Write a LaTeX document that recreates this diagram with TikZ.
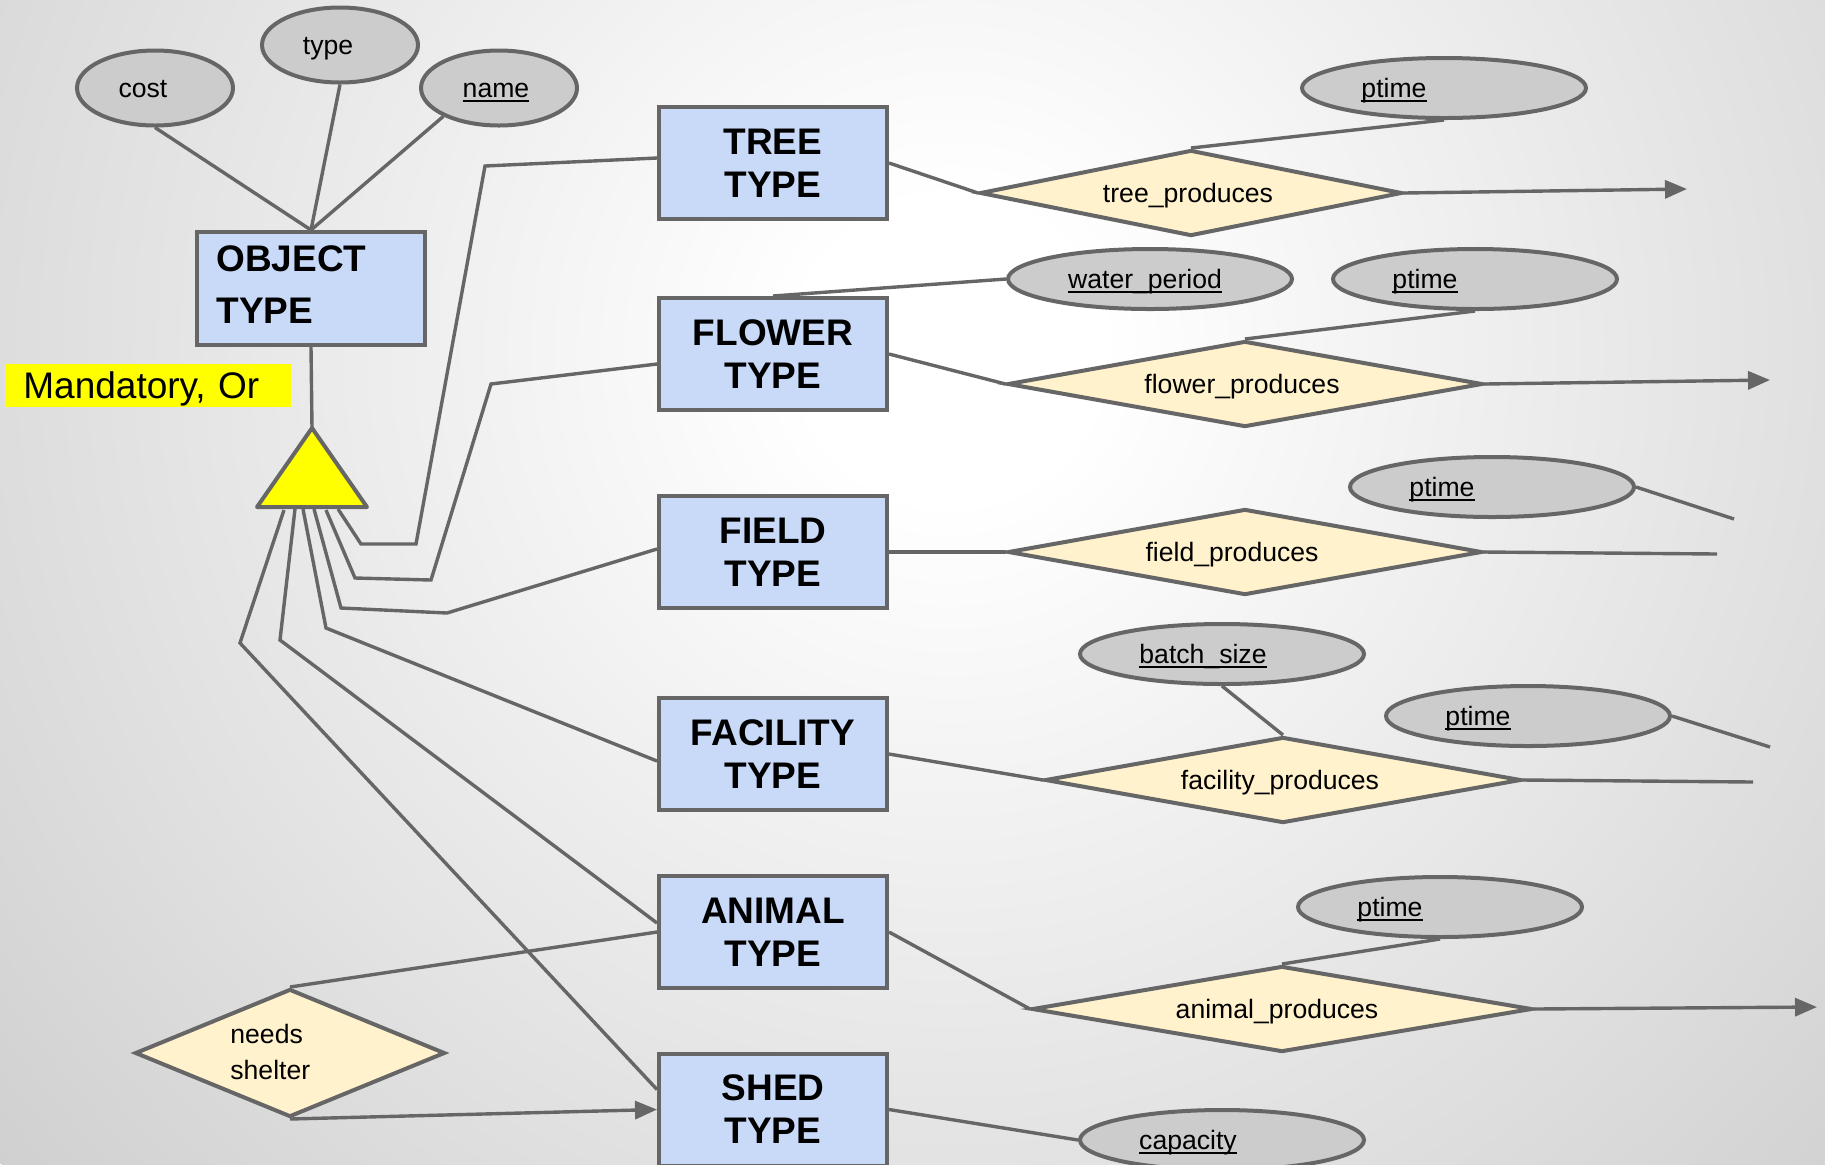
\documentclass[tikz,border=0pt]{standalone}
\usepackage{fontspec}
\setmainfont{Liberation Sans}
\usetikzlibrary{shapes.geometric, arrows.meta, calc}

\definecolor{edgegray}{HTML}{666666}
\definecolor{entblue}{HTML}{C9DAF8}
\definecolor{relyellow}{HTML}{FFF2CC}
\definecolor{attrgray}{HTML}{CCCCCC}
\definecolor{bgedge}{HTML}{D0D0D0}
\definecolor{isayellow}{HTML}{FFFF00}

% soft light spot behind the diagram (25bp = radius of the shaded circle)
\pgfdeclareradialshading{bgglow}{\pgfpoint{0bp}{0bp}}{color(0bp)=(white); color(3bp)=(white); color(25bp)=(bgedge); color(50bp)=(bgedge)}

% key attribute: underline drawn through the descenders
\newcommand{\keyattr}[1]{\setbox0=\hbox{#1}\rlap{\rule[-0.17em]{\wd0}{0.07em}}\box0}

\tikzset{
  ln/.style={draw=edgegray, line width=1.7pt},
  arr/.style={ln, -{Triangle[length=11pt, width=9pt]}},
  entity/.style={rectangle, draw=edgegray, line width=2pt, fill=entblue,
    minimum width=114pt, minimum height=56pt, inner sep=0pt, align=center,
    font=\fontsize{18.5}{21.5}\selectfont\bfseries},
  rel/.style={diamond, draw=edgegray, line width=2pt, fill=relyellow,
    inner sep=0pt, minimum height=43pt},
  attr/.style={ellipse, draw=edgegray, line width=2pt, fill=attrgray,
    inner sep=0pt, minimum width=142pt, minimum height=30pt},
  lbl/.style={inner sep=0pt, anchor=base, font=\fontsize{13.3}{16}\selectfont},
}

\begin{document}
\begin{tikzpicture}[x=0.5pt, y=-0.5pt]
% background glow
\fill[bgedge] (0,0) rectangle (1825,1164);
\begin{scope}
  \clip (0,0) rectangle (1825,1164);
  \shade[shading=bgglow] (950,350) circle[radius=1250];
\end{scope}
\useasboundingbox (0,0) rectangle (1825,1164);

% supertype and its attributes
\node[entity, minimum height=56.5pt] (obj) at (311,288.5) {};
\node[inner sep=0pt, anchor=west, align=left,
      font=\fontsize{18.5}{26}\selectfont\bfseries] (obj-t) at (216,284.5) {OBJECT\\TYPE};
\node[attr, minimum width=78pt, minimum height=37.5pt] (cost) at (155,88) {};
\node[attr, minimum width=78pt, minimum height=37.5pt] (typ) at (340,45) {};
\node[attr, minimum width=78pt, minimum height=37.5pt] (nam) at (499,88) {};
\node[lbl] (cost-t) at (143,97) {cost};
\node[lbl] (typ-t) at (328,54) {type};
\node[lbl] (nam-t) at (496,97) {\keyattr{name}};
\draw[ln] (cost.south) -- (obj.north);
\draw[ln] (typ.south) -- (obj.north);
\draw[ln] (nam.207) -- (obj.north);

\node[anchor=west, fill=isayellow, inner xsep=9pt, inner ysep=0pt, text width=125pt,
      text height=13.3pt, text depth=0pt,
      minimum height=21.5pt, align=left, font=\fontsize{18.5}{21}\selectfont]
      (mand) at (5,385.5) {Mandatory, Or};

% specialisation triangle
\coordinate (isa-top) at (312,428);
\coordinate (isa-l) at (257,507);
\coordinate (isa-r) at (367,507);
\draw[ln] (obj.south) -- (isa-top);
\draw[draw=edgegray, line width=2pt, fill=isayellow, line join=round]
  (isa-top) -- (isa-l) -- (isa-r) -- cycle;

% subtypes
\node[entity] (tree) at (773,163) {TREE\\TYPE};
\node[entity] (flower) at (773,354) {FLOWER\\TYPE};
\node[entity] (field) at (773,552) {FIELD\\TYPE};
\node[entity] (facility) at (773,754) {FACILITY\\TYPE};
\node[entity] (animal) at (773,932) {ANIMAL\\TYPE};
\node[entity] (shed) at (773,1109.5) {SHED\\TYPE};

% subtype links
\coordinate (s1) at (338,509);
\coordinate (s2) at (326,510);
\coordinate (s3) at (314,509);
\coordinate (s4) at (303,509);
\coordinate (s5) at (295,509);
\coordinate (s6) at (284,510);
\draw[ln, line join=miter] (s1) -- (361,544) -- (416,544) -- (485,166) -- ($(tree.west)+(0,-5)$);
\draw[ln, line join=miter] (s2) -- (355,578) -- (431,580) -- (491,384) -- ($(flower.west)+(0,10)$);
\draw[ln, line join=miter] (s3) -- (341,608) -- (447,613) -- ($(field.west)+(0,-3)$);
\draw[ln, line join=miter] (s4) -- (326,628) -- ($(facility.west)+(0,7)$);
\draw[ln, line join=miter] (s5) -- (280,640) -- ($(animal.west)+(0,-9)$);
\draw[ln, line join=miter] (s6) -- (240,643) -- ($(shed.west)+(0,-20)$);

% needs shelter
\node[rel, minimum width=155pt, minimum height=64pt] (ns) at (290,1053) {};
\node[inner sep=0pt, align=left, font=\fontsize{13.3}{18}\selectfont, anchor=west] (ns-t) at (230,1052) {needs\\shelter};
\draw[ln] (ns.north) -- (animal.west);
\draw[arr] (ns.south) -- (shed.west);

% relationships
\node[rel, minimum width=211pt] (trp) at (1191,193) {};
\node[lbl] (trp-t) at (1188,202) {tree\_produces};
\node[rel, minimum width=237.5pt] (flp) at (1245,384) {};
\node[lbl] (flp-t) at (1242,393) {flower\_produces};
\node[rel, minimum width=237pt] (fip) at (1245,552) {};
\node[lbl] (fip-t) at (1232,561) {field\_produces};
\node[rel, minimum width=238pt] (fap) at (1283,780) {};
\node[lbl] (fap-t) at (1280,789) {facility\_produces};
\node[rel, minimum width=250pt] (anp) at (1282,1009) {};
\node[lbl] (anp-t) at (1277,1018) {animal\_produces};

% relationship attributes
\node[attr] (ptA) at (1444,88) {};
\node[lbl] (ptA-t) at (1394,97) {\keyattr{ptime}};
\node[attr] (water) at (1150,279) {};
\node[lbl] (water-t) at (1145,288) {\keyattr{water\_period}};
\node[attr] (ptB) at (1475,279) {};
\node[lbl] (ptB-t) at (1425,288) {\keyattr{ptime}};
\node[attr] (ptC) at (1492,487) {};
\node[lbl] (ptC-t) at (1442,496) {\keyattr{ptime}};
\node[attr] (batch) at (1222,654) {};
\node[lbl] (batch-t) at (1203,663) {\keyattr{batch\_size}};
\node[attr] (ptD) at (1528,716) {};
\node[lbl] (ptD-t) at (1478,725) {\keyattr{ptime}};
\node[attr] (ptE) at (1440,907) {};
\node[lbl] (ptE-t) at (1390,916) {\keyattr{ptime}};
\node[attr] (cap) at (1222,1140) {};
\node[lbl] (cap-t) at (1188,1149) {\keyattr{capacity}};

% loose ends
\coordinate (endA) at (1687,189);
\coordinate (endB) at (1770,380);
\coordinate (endC) at (1717,554);
\coordinate (endC2) at (1734,519);
\coordinate (endD) at (1753,782);
\coordinate (endD2) at (1770,747);
\coordinate (endE) at (1817,1007);

% connectors of the relationships
\draw[ln] (tree.east) -- (trp.west);
\draw[ln] (trp.north) -- (ptA.south);
\draw[arr] (trp.east) -- (endA);
\draw[ln] (flower.east) -- (flp.west);
\draw[ln] (flower.north) -- (water.west);
\draw[ln] (flp.north) -- (ptB.south);
\draw[arr] (flp.east) -- (endB);
\draw[ln] (field.east) -- (fip.west);
\draw[ln] (fip.east) -- (endC);
\draw[ln] (ptC.east) -- (endC2);
\draw[ln] (facility.east) -- (fap.west);
\draw[ln] (batch.south) -- (fap.north);
\draw[ln] (fap.east) -- (endD);
\draw[ln] (ptD.east) -- (endD2);
\draw[ln] (animal.east) -- (anp.west);
\draw[ln] (anp.north) -- (ptE.south);
\draw[arr] (anp.east) -- (endE);
\draw[ln] (shed.east) -- (cap.west);
\end{tikzpicture}
\end{document}
